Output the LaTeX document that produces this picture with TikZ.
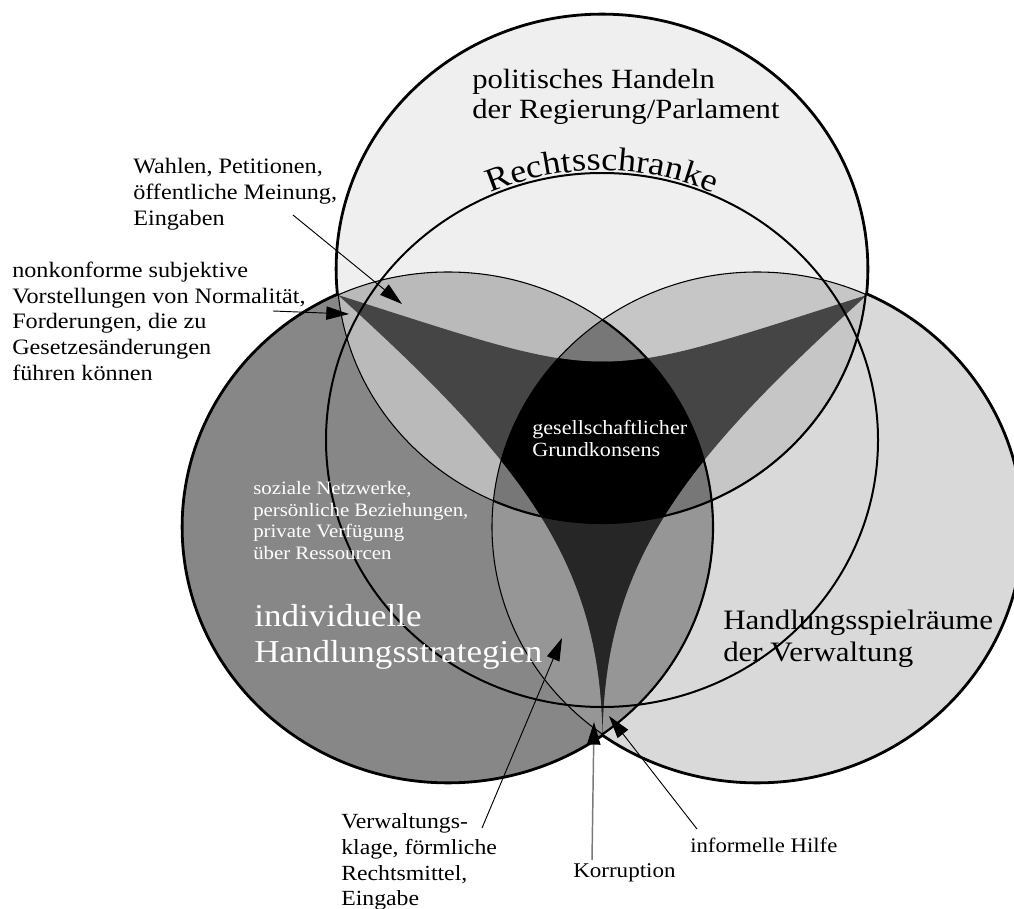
\documentclass[tikz,border=0pt]{standalone}
\usepackage{fontspec}
\setmainfont[FakeStretch=1.1]{Liberation Serif}
\usetikzlibrary{arrows.meta,decorations.text}
\definecolor{cT}{HTML}{EFEFEF}
\definecolor{cL}{HTML}{878787}
\definecolor{cR}{HTML}{D9D9D9}
\definecolor{cTL}{HTML}{BABABA}
\definecolor{cTR}{HTML}{C6C6C6}
\definecolor{cLR}{HTML}{969696}
\definecolor{cTLR}{HTML}{777777}
\definecolor{cDT}{HTML}{454545}
\definecolor{cDLR}{HTML}{262626}
\definecolor{cKor}{HTML}{7A7A7A}
\newcommand\fsz[2]{\fontsize{#1}{#2}\selectfont}
\newcommand\topstrut{\rule{0pt}{1em}}
\def\Tp{(602,269) ellipse [x radius=265, y radius=254]}
\def\Lp{(448,527) ellipse [x radius=265, y radius=255]}
\def\Rp{(757,527) ellipse [x radius=265, y radius=255]}
\def\Sp{(602,440) ellipse [x radius=276, y radius=267]}
\def\Dp{(338,295) .. controls (617,384) and (588,384) .. (867,295) .. controls (685,460) and (605,560) .. (602.5,734) .. controls (600,560) and (520,460) .. (338,295) -- cycle}
\tikzset{
  lbl/.style={anchor=north west, inner sep=0pt, align=left},
  ptr/.style={line width=0.7pt, -{Triangle[length=17pt,width=10pt,color=black]}},
}
\begin{document}
\begin{tikzpicture}[x=0.75pt, y=-0.75pt]
\useasboundingbox (0,0) rectangle (1014,909);
% thick outer outline (inner half covered by fills)
\draw[line width=3.4pt] \Tp;
\draw[line width=3.4pt] \Lp;
\draw[line width=3.4pt] \Rp;
% base fills
\fill[cT] \Tp;
\fill[cL] \Lp;
\fill[cR] \Rp;
% lenses
\begin{scope}\clip \Tp; \fill[cTL] \Lp; \end{scope}
\begin{scope}\clip \Tp; \fill[cTR] \Rp; \end{scope}
\begin{scope}\clip \Lp; \fill[cLR] \Rp; \end{scope}
\begin{scope}\clip \Tp; \clip \Lp; \fill[cTLR] \Rp; \end{scope}
% dark curved triangle
\fill[cDT] \Dp;
\begin{scope}\clip \Lp; \clip \Rp; \fill[cDLR] \Dp; \end{scope}
\begin{scope}\clip \Tp; \clip \Lp; \clip \Rp; \fill[black] \Dp; \end{scope}
% inner outlines
\draw[line width=0.8pt] \Tp;
\draw[line width=0.8pt] \Lp;
\draw[line width=0.8pt] \Rp;
\begin{scope}\clip \Rp; \draw[line width=1.6pt] \Tp; \draw[line width=1.6pt] \Lp; \end{scope}
% Rechtsschranke
\draw[line width=1.5pt] \Sp;
\path[decorate, decoration={text along path, text align=center, raise=2pt,
  text={|\fsz{24.75}{29}|Rechtsschranke}}]
  (602,440) ++(235:276 and 267) arc[start angle=235, end angle=305, x radius=276, y radius=267];
% labels
\node[lbl, font=\fsz{20.9}{22.5}] (polit) at (472,60.1) {\topstrut politisches Handeln\\der Regierung/Parlament};
\node[lbl, font=\fsz{16.5}{19.5}] (wahl) at (133,151) {\topstrut Wahlen, Petitionen,\\öffentliche Meinung,\\Eingaben};
\node[lbl, font=\fsz{16.5}{19.35}] (nonk) at (12,255) {\topstrut nonkonforme subjektive\\Vorstellungen von Normalität,\\Forderungen, die zu\\Gesetzesänderungen\\führen können};
\node[lbl, font=\fsz{15.1}{17}, text=white] (konsens) at (532,413.9) {\topstrut gesellschaftlicher\\Grundkonsens};
\node[lbl, font=\fsz{14.2}{16.3}, text=white] (sozial) at (253,475.1) {\topstrut soziale Netzwerke,\\persönliche Beziehungen,\\private Verfügung\\über Ressourcen};
\node[lbl, font=\fsz{23.9}{27.5}, text=white] (indiv) at (254,594.1) {\topstrut individuelle\\Handlungsstrategien};
\node[lbl, font=\fsz{21.1}{24}] (verw) at (723,600.9) {\topstrut Handlungsspielräume\\der Verwaltung};
\node[lbl, font=\fsz{16.2}{19.4}] (klage) at (341,806.4) {\topstrut Verwaltungs-\\klage, förmliche\\Rechtsmittel,\\Eingabe};
\node[lbl, font=\fsz{15.7}{19}] (korr) at (573,856.1) {\topstrut Korruption};
\node[lbl, font=\fsz{15.5}{19}] (hilfe) at (690,831.3) {\topstrut informelle Hilfe};
% arrows
\coordinate (aS) at (293,215); \coordinate (aE) at (402,304);
\coordinate (bS) at (273,311); \coordinate (bE) at (349,314);
\coordinate (cS) at (482,828); \coordinate (cE) at (562,638);
\coordinate (dS) at (592,860); \coordinate (dE) at (594,722);
\coordinate (eS) at (697,829); \coordinate (eE) at (609,716);
\draw[ptr] (aS) -- (aE);
\draw[ptr] (bS) -- (bE);
\draw[ptr] (cS) -- (cE);
\draw[ptr, cKor, line width=1.1pt] (dS) -- (dE);
\draw[ptr] (eS) -- (eE);
\end{tikzpicture}
\end{document}
